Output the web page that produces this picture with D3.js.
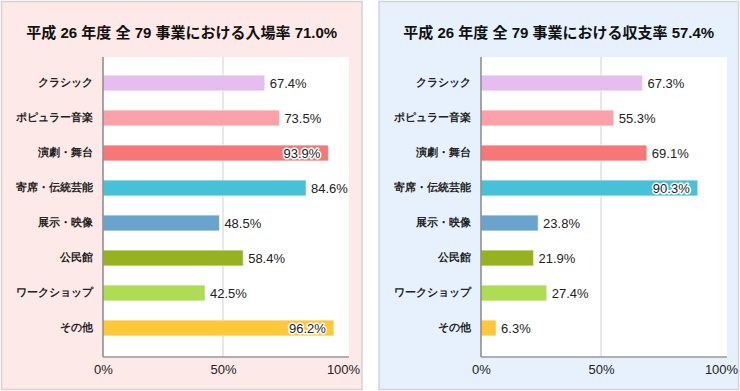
<!DOCTYPE html>
<html><head><meta charset="utf-8">
<script src="https://cdn.jsdelivr.net/npm/d3@7"></script>
<style>
html,body{margin:0;padding:0;background:#fff;}
svg{display:block;font-family:"Noto Sans CJK JP","Noto Sans",sans-serif;}
</style></head>
<body>
<svg id="c" width="740" height="391"></svg>
<script>
const categories = ["クラシック","ポピュラー音楽","演劇・舞台","寄席・伝統芸能","展示・映像","公民館","ワークショップ","その他"];
const colors = ["#e6bdf0","#fda1a9","#f77777","#47c1d8","#6aa3cb","#97b21f","#aedc54","#ffc83b"];
const attendance = [67.4,73.5,93.9,84.6,48.5,58.4,42.5,96.2];
const balance = [67.3,55.3,69.1,90.3,23.8,21.9,27.4,6.3];
const tickValues = [0,50,100];
const titles = ["平成 26 年度 全 79 事業における入場率 71.0%","平成 26 年度 全 79 事業における収支率 57.4%"];

const svg = d3.select("#c");
const panels = [
  {x0:1.5,x1:362,bg:"#fde9e7",plotL:103,plotR:349,values:attendance,title:titles[0]},
  {x0:379,x1:738.5,bg:"#e6f1fd",plotL:481,plotR:727,values:balance,title:titles[1]}
];
const numFont = "'Liberation Sans',Arial,sans-serif";
panels.forEach(p=>{
  const g = svg.append("g");
  g.append("rect").attr("x",p.x0).attr("y",1.5).attr("width",p.x1-p.x0).attr("height",388)
    .attr("fill",p.bg).attr("stroke","#d4d4d4").attr("stroke-width",1.5);
  g.append("text").attr("x",(p.x0+p.x1)/2).attr("y",37.5).attr("text-anchor","middle")
    .attr("font-family","'Liberation Sans','Noto Sans CJK JP',sans-serif")
    .attr("font-size",15).attr("font-weight","bold").attr("fill","#111").text(p.title);
  const x = d3.scaleLinear().domain([0,102.5]).range([p.plotL,p.plotR]);
  const y = d3.scaleBand().domain(categories).range([65.5,345.5]).paddingInner(0.55).paddingOuter(0.275);
  g.append("rect").attr("x",p.plotL).attr("y",57).attr("width",p.plotR-p.plotL).attr("height",300).attr("fill","#fff");
  g.selectAll("line.grid").data([50]).join("line").attr("class","grid")
    .attr("x1",d=>x(d)).attr("x2",d=>x(d)).attr("y1",57).attr("y2",357)
    .attr("stroke","#d9d9d9").attr("stroke-width",1.2);
  g.selectAll("rect.bar").data(p.values).join("rect").attr("class","bar")
    .attr("x",x(0)).attr("y",(d,i)=>y(categories[i]))
    .attr("width",d=>x(d)-x(0)).attr("height",y.bandwidth())
    .attr("fill",(d,i)=>colors[i]).attr("stroke","rgba(255,255,255,0.5)").attr("stroke-width",1);
  const ax = g.append("g").attr("transform","translate(0,357)")
    .call(d3.axisBottom(x).tickValues(tickValues).tickFormat(d=>d+"%").tickSize(0).tickPadding(8));
  ax.select(".domain").remove();
  g.append("line").attr("x1",p.plotL).attr("x2",p.plotR).attr("y1",357).attr("y2",357).attr("stroke","#999").attr("stroke-width",1.5);
  ax.selectAll("text").attr("font-size",13).attr("fill","#222").attr("font-family",numFont);
  const ay = g.append("g").attr("transform",`translate(${p.plotL},0)`)
    .call(d3.axisLeft(y).tickSize(0).tickPadding(10));
  ay.select(".domain").remove();
  g.append("line").attr("x1",p.plotL).attr("x2",p.plotL).attr("y1",57).attr("y2",357).attr("stroke","#888").attr("stroke-width",1.5);
  ay.selectAll("text").attr("font-size",10.5).attr("font-weight","bold").attr("fill","#222");
  p.values.forEach((v,i)=>{
    const cy = y(categories[i])+y.bandwidth()/2;
    const inside = v>=90;
    const t = g.append("text").attr("y",cy).attr("dy","0.36em").attr("font-size",13)
      .attr("font-family",numFont).attr("fill","#222").text(v.toFixed(1)+"%");
    if(inside){
      t.attr("x",x(v)-8).attr("text-anchor","end").attr("stroke","#fff").attr("stroke-width",3)
        .attr("paint-order","stroke").attr("stroke-linejoin","round");
    } else {
      t.attr("x",x(v)+5).attr("text-anchor","start");
    }
  });
});
</script>
</body></html>
